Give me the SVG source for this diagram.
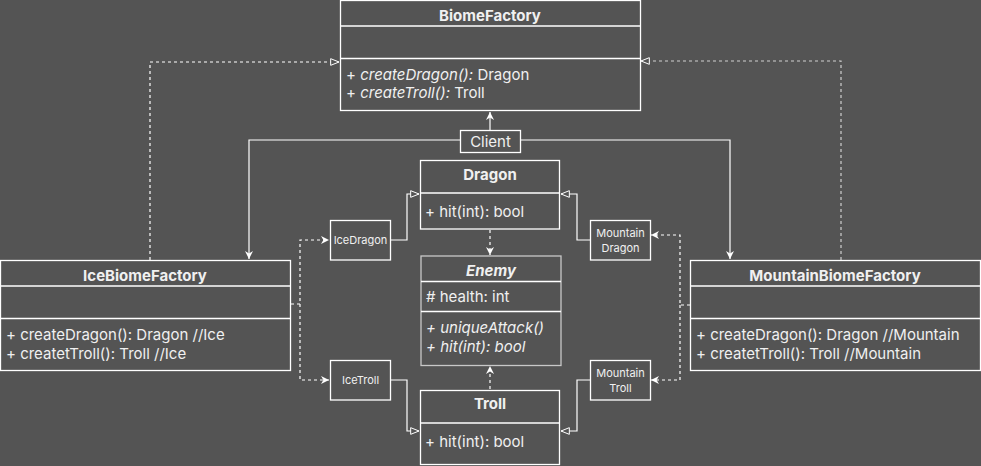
<svg xmlns="http://www.w3.org/2000/svg" width="981" height="466" viewBox="0 0 981 466">
<defs>
<style>
.box{fill:none;stroke:#ffffff;stroke-width:1.3}
.gbox{fill:none;stroke:#c8c8c8;stroke-width:1.3}
text{font-family:Inter,"Liberation Sans",sans-serif;fill:#f0f0f0}
.t{font-size:15px;font-weight:bold;text-anchor:middle}
.m{font-size:15px}
.s{font-size:11px;text-anchor:middle}
.i{font-style:italic}
.ln{fill:none;stroke:#ffffff;stroke-width:1.2}
.dl{fill:none;stroke:#ffffff;stroke-width:1.2;stroke-dasharray:3,3}
.gd{fill:none;stroke:#d0d0d0;stroke-width:1.2;stroke-dasharray:3,3}
</style>
<marker id="arr" viewBox="0 0 10 10" refX="10" refY="5" markerWidth="8" markerHeight="8" orient="auto" markerUnits="userSpaceOnUse">
<path d="M0,0 L10,5 L0,10 L3,5 z" fill="#ffffff"/>
</marker>
<marker id="tri" viewBox="0 0 12 10" refX="11" refY="5" markerWidth="10" markerHeight="9" orient="auto" markerUnits="userSpaceOnUse">
<path d="M1,1 L11,5 L1,9 z" fill="#545454" stroke="#ffffff" stroke-width="1.2"/>
</marker>
</defs>
<rect width="981" height="466" fill="#545454"/>

<g id="connectors">
<path class="ln" d="M490,130 L490,112" marker-end="url(#arr)"/>
<path class="ln" d="M460,140 L249,140 L249,259" marker-end="url(#arr)"/>
<path class="ln" d="M521,140 L730,140 L730,259" marker-end="url(#arr)" stroke="#d8d8d8"/>
<path class="dl" d="M150,260 L150,62 L339,62" marker-end="url(#tri)"/>
<path class="gd" d="M841,260 L841,61 L641,61" marker-end="url(#tri)"/>
<path class="dl" d="M291,304 L300,304 L300,240 L329,240" marker-end="url(#arr)"/>
<path class="dl" d="M300,304 L300,380 L329,380" marker-end="url(#arr)"/>
<path class="dl" d="M690,305 L680,305 L680,235 L651,235" marker-end="url(#arr)"/>
<path class="dl" d="M680,305 L680,380 L651,380" marker-end="url(#arr)"/>
<path class="ln" d="M391,240 L407,240 L407,194 L419,194" marker-end="url(#tri)"/>
<path class="ln" d="M590,240 L577,240 L577,194 L561,194" marker-end="url(#tri)"/>
<path class="ln" d="M391,380 L407,380 L407,431 L419,431" marker-end="url(#tri)"/>
<path class="ln" d="M590,380 L577,380 L577,431 L561,431" marker-end="url(#tri)"/>
<path class="dl" d="M490,230 L490,255" marker-end="url(#arr)"/>
<path class="dl" d="M490,389 L490,366" marker-end="url(#arr)"/>
</g>

<g id="BiomeFactory">
<rect class="box" x="340.5" y="0.5" width="300" height="110"/>
<line class="box" x1="340.5" y1="26" x2="640.5" y2="26"/>
<line class="box" x1="340.5" y1="58.5" x2="640.5" y2="58.5"/>
<text class="t" x="490" y="21">BiomeFactory</text>
<text class="m" x="346" y="80">+ <tspan class="i">createDragon():</tspan> Dragon</text>
<text class="m" x="346" y="98">+ <tspan class="i">createTroll():</tspan> Troll</text>
</g>

<g id="Client">
<rect class="box" x="460.5" y="130.5" width="60" height="22"/>
<text class="m" x="490.5" y="146.5" text-anchor="middle">Client</text>
</g>

<g id="IceBiomeFactory">
<rect class="box" x="0.5" y="260.5" width="290" height="110"/>
<line class="box" x1="0.5" y1="286" x2="290.5" y2="286"/>
<line class="box" x1="0.5" y1="318.5" x2="290.5" y2="318.5"/>
<text class="t" x="145" y="281">IceBiomeFactory</text>
<text class="m" x="6" y="339.5">+ createDragon(): Dragon //Ice</text>
<text class="m" x="6" y="358.5">+ createtTroll(): Troll //Ice</text>
</g>

<g id="MountainBiomeFactory">
<rect class="box" x="690.5" y="260.5" width="290" height="110"/>
<line class="box" x1="690.5" y1="286" x2="980.5" y2="286"/>
<line class="box" x1="690.5" y1="318.5" x2="980.5" y2="318.5"/>
<text class="t" x="835" y="281">MountainBiomeFactory</text>
<text class="m" x="696" y="339.5">+ createDragon(): Dragon //Mountain</text>
<text class="m" x="696" y="358.5">+ createtTroll(): Troll //Mountain</text>
</g>

<g id="Dragon">
<rect class="box" x="420.5" y="160.5" width="139" height="68.5"/>
<line class="box" x1="420.5" y1="193" x2="559.5" y2="193"/>
<text class="t" x="490" y="180">Dragon</text>
<text class="m" x="425" y="217">+ hit(int): bool</text>
</g>

<g id="Enemy">
<rect class="gbox" x="421" y="256" width="140" height="109.5"/>
<line class="box" x1="421" y1="281.5" x2="561" y2="281.5"/>
<line class="box" x1="421" y1="311.5" x2="561" y2="311.5"/>
<text class="t i" x="491" y="276">Enemy</text>
<text class="m" x="426" y="302"># health: int</text>
<text class="m i" x="426" y="333">+ uniqueAttack()</text>
<text class="m i" x="426" y="352">+ hit(int): bool</text>
</g>

<g id="Troll">
<rect class="box" x="420.5" y="390.5" width="139" height="74"/>
<line class="box" x1="420.5" y1="423" x2="559.5" y2="423"/>
<text class="t" x="490" y="409">Troll</text>
<text class="m" x="425" y="447">+ hit(int): bool</text>
</g>

<g id="IceDragon">
<rect class="box" x="330.5" y="220.5" width="60" height="39.5"/>
<text class="s" x="360.5" y="244">IceDragon</text>
</g>

<g id="IceTroll">
<rect class="box" x="330.5" y="360.5" width="60" height="39.5"/>
<text class="s" x="360.5" y="384">IceTroll</text>
</g>

<g id="MountainDragon">
<rect class="box" x="590.5" y="220.5" width="60" height="39.5"/>
<text class="s" x="620.5" y="237">Mountain</text>
<text class="s" x="620.5" y="252">Dragon</text>
</g>

<g id="MountainTroll">
<rect class="box" x="590.5" y="360.5" width="60" height="39.5"/>
<text class="s" x="620.5" y="377">Mountain</text>
<text class="s" x="620.5" y="392">Troll</text>
</g>
</svg>
